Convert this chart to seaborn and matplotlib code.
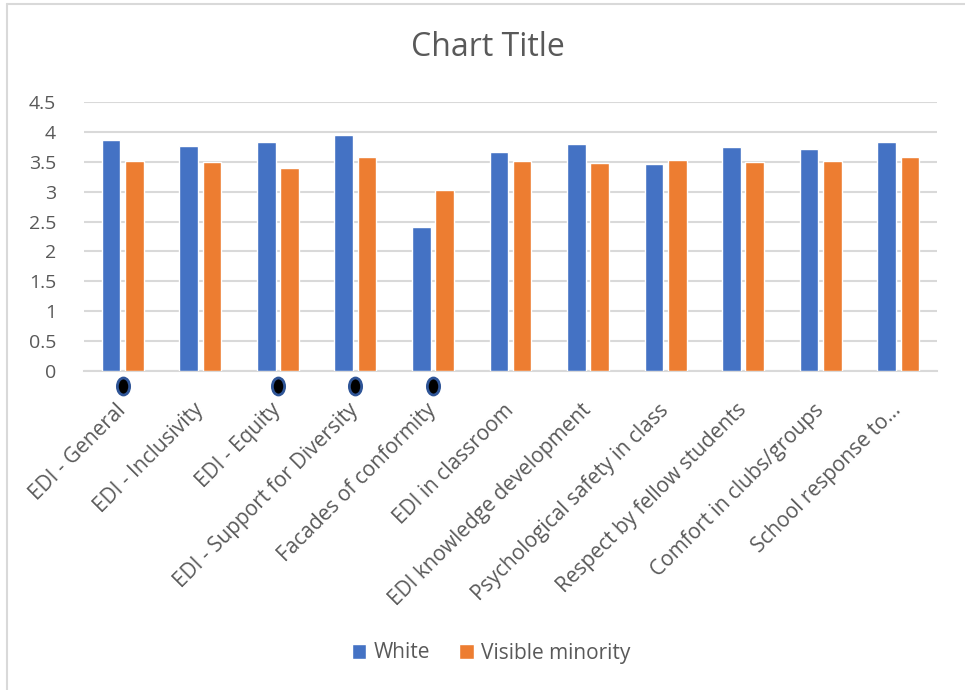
import matplotlib
matplotlib.use("Agg")
import matplotlib.pyplot as plt
from matplotlib.path import Path
from matplotlib.lines import Line2D
import numpy as np
import pandas as pd
import seaborn as sns

# Survey categories and mean scores per group
categories = [
    "EDI - General",
    "EDI - Inclusivity",
    "EDI - Equity",
    "EDI - Support for Diversity",
    "Facades of conformity",
    "EDI in classroom",
    "EDI knowledge development",
    "Psychological safety in class",
    "Respect by fellow students",
    "Comfort in clubs/groups",
    "School response to\u2026",
]
white = [3.87, 3.76, 3.83, 3.94, 2.41, 3.67, 3.79, 3.46, 3.75, 3.71, 3.83]
visible_minority = [3.51, 3.50, 3.40, 3.58, 3.03, 3.51, 3.48, 3.53, 3.50, 3.51, 3.58]
series_names = ["White", "Visible minority"]
# categories flagged with a marker under the axis
flagged = ["EDI - General", "EDI - Equity", "EDI - Support for Diversity",
           "Facades of conformity"]
y_ticks = [0, 0.5, 1, 1.5, 2, 2.5, 3, 3.5, 4, 4.5]
y_tick_labels = ["0", "0.5", "1", "1.5", "2", "2.5", "3", "3.5", "4", "4.5"]

df = pd.DataFrame({
    "category": categories * 2,
    "group": [series_names[0]] * len(categories) + [series_names[1]] * len(categories),
    "score": white + visible_minority,
})

sns.set_theme(style="white")
plt.rcParams["font.family"] = ["Open Sans", "DejaVu Sans"]
text_color = "#595959"
grid_color = "#d9d9d9"

fig = plt.figure(figsize=(9.65, 6.9), dpi=100)
ax = fig.add_axes([84 / 965, 319 / 690, (937 - 84) / 965, (371 - 102) / 690])

sns.barplot(
    data=df, x="category", y="score", hue="group",
    order=categories, hue_order=series_names,
    palette=["#4472C4", "#ED7D31"], width=0.6, gap=0.2,
    saturation=1, errorbar=None, ax=ax, zorder=3,
)

ax.set_ylim(0, 4.5)
ax.set_xlim(-0.5, len(categories) - 0.5)
ax.set_yticks(y_ticks)
ax.set_yticklabels(y_tick_labels)
ax.yaxis.grid(True, color=grid_color, linewidth=1.5, zorder=0)
ax.set_axisbelow(True)
for side in ["top", "right", "left"]:
    ax.spines[side].set_visible(False)
ax.spines["bottom"].set_color(grid_color)
ax.spines["bottom"].set_linewidth(1.5)
ax.set_xlabel("")
ax.set_ylabel("")

ax.tick_params(axis="y", length=0, pad=20, labelsize=14, labelcolor=text_color)
ax.tick_params(axis="x", length=0, pad=26, labelsize=15, labelcolor=text_color)
for lbl in ax.get_xticklabels():
    lbl.set_rotation(45)
    lbl.set_ha("right")
    lbl.set_va("center")
    lbl.set_rotation_mode("anchor")

# oval markers under flagged categories
circle = Path.unit_circle()
oval = Path(circle.vertices * np.array([0.72, 1.0]), circle.codes)
fx = [categories.index(c) for c in flagged]
ax.scatter(fx, [-0.25] * len(fx), marker=oval, s=150, c="black",
           edgecolors="#2f5597", linewidths=2, clip_on=False, zorder=5)

handles, labels = ax.get_legend_handles_labels()
ax.legend(handles, labels, loc="center", bbox_to_anchor=(491 / 965, 1 - 653 / 690),
          bbox_transform=fig.transFigure, ncol=2, frameon=False,
          fontsize=15, labelcolor=text_color, handlelength=0.7,
          handleheight=0.7, handletextpad=0.35, columnspacing=1.4)

fig.text(488 / 965, 1 - 47 / 690, "Chart Title", ha="center", va="center",
         fontsize=23, color=text_color)

# outer chart frame
fig.add_artist(Line2D([7 / 965, 7 / 965], [0, 1 - 4 / 690], transform=fig.transFigure,
                      color="#d9d9d9", linewidth=1.5))
fig.add_artist(Line2D([7 / 965, 1], [1 - 4 / 690, 1 - 4 / 690], transform=fig.transFigure,
                      color="#d9d9d9", linewidth=1.5))

fig.savefig("out.png", dpi=100, facecolor="white")
